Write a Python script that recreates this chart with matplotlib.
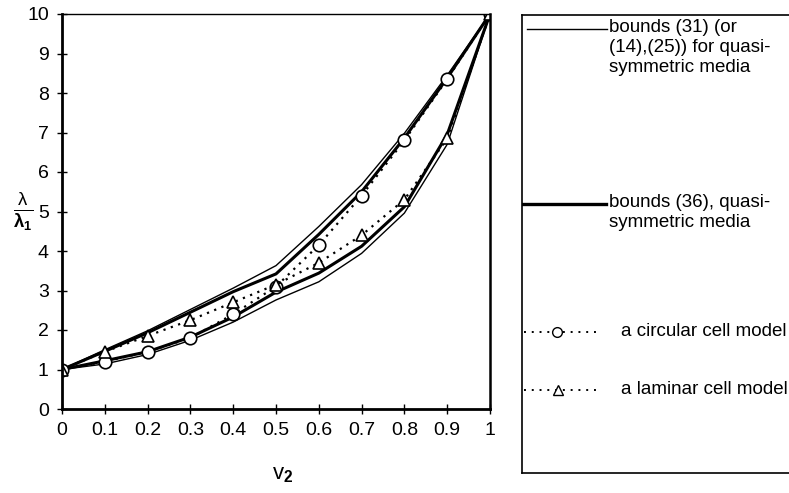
import numpy as np
import matplotlib
matplotlib.use("Agg")
import matplotlib.pyplot as plt
from matplotlib.lines import Line2D

plt.rcParams['font.family'] = ['Liberation Sans', 'DejaVu Sans']
plt.rcParams['mathtext.fontset'] = 'custom'
plt.rcParams['mathtext.rm'] = 'Liberation Sans'
plt.rcParams['mathtext.it'] = 'Liberation Sans'
plt.rcParams['mathtext.bf'] = 'Liberation Sans:bold'

# volume fraction v2
v2 = [0, 0.1, 0.2, 0.3, 0.4, 0.5, 0.6, 0.7, 0.8, 0.9, 1.0]

# bounds (31) (thin lines)
b31_upper = [1, 1.50, 1.98, 2.52, 3.06, 3.63, 4.62, 5.68, 6.98, 8.45, 10]
b31_lower = [1, 1.14, 1.38, 1.74, 2.20, 2.76, 3.22, 3.94, 4.96, 6.70, 10]

# bounds (36) (thick lines)
b36_upper = [1, 1.46, 1.93, 2.45, 2.97, 3.42, 4.42, 5.50, 6.86, 8.38, 10]
b36_lower = [1, 1.22, 1.45, 1.82, 2.33, 2.96, 3.44, 4.12, 5.12, 6.95, 10]

# cell models
circ = [1, 1.20, 1.45, 1.80, 2.40, 3.10, 4.15, 5.40, 6.80, 8.35, 10]
lam = [1, 1.45, 1.85, 2.25, 2.70, 3.15, 3.70, 4.40, 5.30, 6.85, 10]

xlabels = ['0', '0.1', '0.2', '0.3', '0.4', '0.5', '0.6', '0.7', '0.8', '0.9', '1']

fig = plt.figure(figsize=(7.89, 4.93), dpi=100)
ax = fig.add_axes([62/789, 84/493, 428/789, 395/493])

ax.plot(v2, b31_upper, color='black', lw=1.0)
ax.plot(v2, b31_lower, color='black', lw=1.0)
ax.plot(v2, b36_upper, color='black', lw=2.2)
ax.plot(v2, b36_lower, color='black', lw=2.2)
ax.plot(v2, circ, color='black', lw=1.6, ls=(0, (1, 2.5)),
        marker='o', ms=9, mfc='white', mec='black', mew=1.2)
ax.plot(v2, lam, color='black', lw=1.6, ls=(0, (1, 2.5)),
        marker='^', ms=9, mfc='white', mec='black', mew=1.2)

ax.set_xlim(0, 1)
ax.set_ylim(0, 10)
ax.set_xticks(np.arange(0, 1.01, 0.1))
ax.set_xticklabels(xlabels)
ax.set_yticks(range(0, 11))
ax.tick_params(direction='inout', length=7, width=1, labelsize=14, pad=6)
ax.spines['left'].set_linewidth(2)
ax.spines['bottom'].set_linewidth(2)
ax.spines['top'].set_linewidth(1)
ax.spines['right'].set_linewidth(1.8)
for s in ax.spines.values():
    s.set_clip_on(False)

ax.set_xlabel(r'$\mathregular{v}_{\mathbf{2}}$', fontsize=16)
ax.xaxis.set_label_coords(0.515, -0.14)
ax.set_ylabel(r'$\frac{\lambda}{\mathbf{\lambda_1}}$', fontsize=19, rotation=0, va='center', ha='center')
ax.yaxis.set_label_coords(-0.09, 0.50)

# legend box drawn by hand, coordinates in pixels
lax = fig.add_axes([522/789, 20/493, 272/789, 458/493])
lax.set_xlim(522, 794)
lax.set_ylim(473, 15)
lax.set_xticks([])
lax.set_yticks([])
for s in lax.spines.values():
    s.set_linewidth(1.2)

fs = 13.5
lax.add_line(Line2D([527, 607], [29, 29], color='black', lw=1.0))
lax.text(609, 19, 'bounds (31) (or\n(14),(25)) for quasi-\nsymmetric media',
         fontsize=fs, va='top', ha='left', linespacing=1.25)
lax.add_line(Line2D([522, 606], [204, 204], color='black', lw=2.4))
lax.text(609, 194, 'bounds (36), quasi-\nsymmetric media',
         fontsize=fs, va='top', ha='left', linespacing=1.25)
lax.add_line(Line2D([524, 600], [332, 332], color='black', lw=1.4, ls=(0, (1, 3))))
lax.add_line(Line2D([557], [332], marker='o', ms=7, mfc='white', mec='black', mew=1.0, ls='none'))
lax.text(621, 332, 'a circular cell model', fontsize=fs, va='center', ha='left')
lax.add_line(Line2D([524, 600], [390, 390], color='black', lw=1.4, ls=(0, (1, 3))))
lax.add_line(Line2D([558], [390], marker='^', ms=7, mfc='white', mec='black', mew=1.0, ls='none'))
lax.text(621, 390, 'a laminar cell model', fontsize=fs, va='center', ha='left')

fig.savefig('out.png', dpi=100)
